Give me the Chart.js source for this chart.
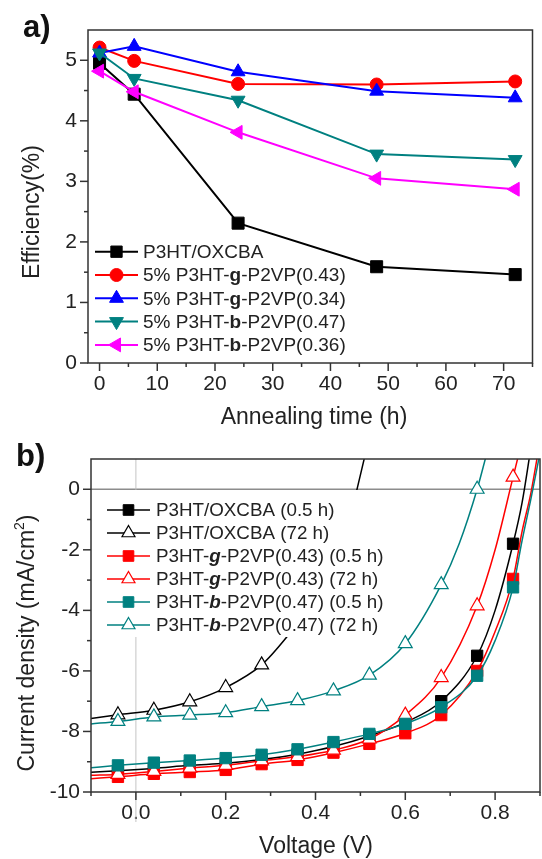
<!DOCTYPE html>
<html>
<head>
<meta charset="utf-8">
<script src="https://cdn.jsdelivr.net/npm/chart.js@4.4.0/dist/chart.umd.min.js"></script>
<style>
  html, body { margin: 0; padding: 0; background: #fff; }
  #wrap { position: relative; width: 542px; height: 859px; overflow: hidden; }
  canvas { position: absolute; left: 0; }
  #chartA { top: 0; }
  #chartB { top: 430px; }
</style>
</head>
<body>
<div id="wrap">
  <canvas id="chartA" width="542" height="430" style="width:542px;height:430px"></canvas>
  <canvas id="chartB" width="542" height="429" style="width:542px;height:429px"></canvas>
</div>
<script>
// ---- panel a: efficiency vs annealing time ----
const annealHours = [0, 6, 24, 48, 72];
const effRef = [4.95, 4.44, 2.31, 1.59, 1.46];
const effG43 = [5.21, 4.99, 4.61, 4.60, 4.65];
const effG34 = [5.12, 5.23, 4.81, 4.49, 4.38];
const effB47 = [5.12, 4.70, 4.34, 3.45, 3.36];
const effB36 = [4.82, 4.48, 3.81, 3.05, 2.87];
const effLabels = [
  "P3HT/OXCBA",
  "5% P3HT-*g*-P2VP(0.43)",
  "5% P3HT-*g*-P2VP(0.34)",
  "5% P3HT-*b*-P2VP(0.47)",
  "5% P3HT-*b*-P2VP(0.36)",
];
const effXTicks = [0, 10, 20, 30, 40, 50, 60, 70];
const effXMinor = [5, 15, 25, 35, 45, 55, 65, 75];
const effYTicks = [0, 1, 2, 3, 4, 5];
const effYMinor = [0.5, 1.5, 2.5, 3.5, 4.5];

// ---- panel b: J-V curves ----
const vRef05 = [-0.1, -0.04, 0.04, 0.12, 0.2, 0.28, 0.36, 0.44, 0.52, 0.6, 0.68, 0.76, 0.8, 0.84, 0.86, 0.88];
const jRef05 = [-9.35, -9.3, -9.22, -9.12, -9.05, -8.93, -8.75, -8.5, -8.15, -7.7, -7.0, -5.5, -4.0, -1.8, -0.45, 1.4];
const vRef72 = [-0.1, -0.04, 0.04, 0.12, 0.2, 0.28, 0.336, 0.36, 0.4, 0.44, 0.47, 0.49, 0.51];
const jRef72 = [-7.57, -7.45, -7.3, -7.02, -6.55, -5.8, -4.88, -4.4, -3.55, -2.45, -1.3, -0.15, 1.1];
const vG05 = [-0.1, -0.04, 0.04, 0.12, 0.2, 0.28, 0.36, 0.44, 0.52, 0.6, 0.68, 0.76, 0.8, 0.84, 0.86, 0.88, 0.9];
const jG05 = [-9.56, -9.5, -9.4, -9.34, -9.27, -9.08, -8.94, -8.7, -8.41, -8.06, -7.46, -6.0, -4.7, -2.96, -1.4, -0.1, 1.6];
const vG72 = [-0.1, -0.04, 0.04, 0.12, 0.2, 0.28, 0.36, 0.44, 0.52, 0.6, 0.68, 0.76, 0.8, 0.84, 0.86];
const jG72 = [-9.45, -9.42, -9.32, -9.21, -9.12, -8.97, -8.83, -8.62, -8.25, -7.46, -6.22, -3.85, -2.0, 0.4, 1.6];
const vB05 = [-0.1, -0.04, 0.04, 0.12, 0.2, 0.28, 0.36, 0.44, 0.52, 0.6, 0.68, 0.76, 0.8, 0.84, 0.86, 0.88, 0.9];
const jB05 = [-9.2, -9.12, -9.03, -8.96, -8.88, -8.77, -8.59, -8.35, -8.08, -7.75, -7.2, -6.16, -5.0, -3.24, -1.7, -0.3, 1.2];
const vB72 = [-0.1, -0.04, 0.04, 0.12, 0.2, 0.28, 0.36, 0.44, 0.52, 0.6, 0.68, 0.72, 0.76, 0.78];
const jB72 = [-7.75, -7.67, -7.52, -7.46, -7.38, -7.18, -6.98, -6.66, -6.14, -5.1, -3.15, -1.8, 0.0, 1.1];
const jvLabels = [
  "P3HT/OXCBA (0.5 h)",
  "P3HT/OXCBA (72 h)",
  "P3HT-_g_-P2VP(0.43) (0.5 h)",
  "P3HT-_g_-P2VP(0.43) (72 h)",
  "P3HT-_b_-P2VP(0.47) (0.5 h)",
  "P3HT-_b_-P2VP(0.47) (72 h)",
];
const markerVolts = [-0.04, 0.04, 0.12, 0.2, 0.28, 0.36, 0.44, 0.52, 0.6, 0.68, 0.76, 0.84];
const jvXTicks = [0, 0.2, 0.4, 0.6, 0.8];
const jvXMinor = [-0.1, 0.1, 0.3, 0.5, 0.7, 0.9];
const jvYTicks = [0, -2, -4, -6, -8, -10];
const jvYMinor = [-1, -3, -5, -7, -9];

const FONT = '"Liberation Sans", Arial, sans-serif';
const INK = "#222222";
const AXIS = "#333333";
const TEAL = "#008080";

function toXY(xs, ys) {
  return xs.map((x, i) => ({ x: x, y: ys[i] }));
}

// same geometry as Chart.js point styles
function drawMarker(ctx, m, x, y) {
  ctx.save();
  ctx.beginPath();
  const r = m.radius;
  if (m.style === "circle") {
    ctx.arc(x, y, r, 0, Math.PI * 2);
  } else if (m.style === "rect") {
    const s = Math.SQRT1_2 * r;
    ctx.rect(x - s, y - s, 2 * s, 2 * s);
  } else {
    let rad = ((m.rotation || 0) * Math.PI) / 180;
    for (let k = 0; k < 3; k++) {
      const px = x + Math.sin(rad) * r;
      const py = y - Math.cos(rad) * r;
      if (k === 0) ctx.moveTo(px, py);
      else ctx.lineTo(px, py);
      rad += (2 * Math.PI) / 3;
    }
    ctx.closePath();
  }
  ctx.fillStyle = m.fill;
  ctx.fill();
  ctx.lineWidth = m.borderWidth;
  ctx.strokeStyle = m.stroke;
  ctx.stroke();
  ctx.restore();
}

// *x* = bold, _x_ = bold italic
function richText(ctx, str, x, y, size) {
  const parts = str.split(/(\*[^*]+\*|_[^_]+_)/).filter(Boolean);
  parts.forEach((p) => {
    let weight = "normal", style = "normal", t = p;
    if (p[0] === "*") { weight = "bold"; t = p.slice(1, -1); }
    else if (p[0] === "_") { weight = "bold"; style = "italic"; t = p.slice(1, -1); }
    ctx.font = `${style} ${weight} ${size}px ${FONT}`;
    ctx.fillText(t, x, y);
    x += ctx.measureText(t).width;
  });
}

function strokeLine(ctx, x1, y1, x2, y2) {
  ctx.beginPath();
  ctx.moveTo(x1, y1);
  ctx.lineTo(x2, y2);
  ctx.stroke();
}

const decor = {
  id: "decor",
  beforeDatasetsDraw(chart, args, o) {
    if (!o.zeroLines) return;
    const { ctx, chartArea: a, scales: { x, y } } = chart;
    ctx.save();
    ctx.strokeStyle = "#8c8c8c";
    ctx.lineWidth = 1.3;
    const y0 = y.getPixelForValue(0);
    strokeLine(ctx, a.left, y0, a.right, y0);
    ctx.strokeStyle = "#bdbdbd";
    ctx.lineWidth = 0.9;
    const x0 = x.getPixelForValue(0);
    strokeLine(ctx, x0, a.top, x0, a.bottom + 30);
    ctx.restore();
  },
  afterDatasetsDraw(chart, args, o) {
    const { ctx, chartArea: a, scales: { x, y } } = chart;
    ctx.save();

    // legend
    const L = o.legend;
    if (L.box) {
      ctx.fillStyle = "#ffffff";
      ctx.fillRect(L.box[0], L.box[1], L.box[2], L.box[3]);
    }
    chart.data.datasets.forEach((ds, i) => {
      const ly = L.top + i * L.step;
      ctx.strokeStyle = ds.borderColor;
      ctx.lineWidth = ds.borderWidth;
      strokeLine(ctx, L.x1, ly, L.x2, ly);
      drawMarker(ctx, {
        style: ds.pointStyle,
        rotation: ds.pointRotation,
        radius: L.radius[i],
        fill: ds.pointBackgroundColor,
        stroke: ds.pointBorderColor,
        borderWidth: ds.pointBorderWidth,
      }, (L.x1 + L.x2) / 2, ly);
      ctx.fillStyle = INK;
      ctx.textBaseline = "middle";
      ctx.textAlign = "left";
      richText(ctx, L.labels[i], L.textX, ly + 1, L.size);
    });

    // frame
    ctx.strokeStyle = AXIS;
    ctx.lineWidth = 1.5;
    ctx.strokeRect(a.left, a.top, a.right - a.left, a.bottom - a.top);

    // tick marks, major and minor
    const tick = (vals, len) => {
      vals.forEach((v) => {
        const px = x.getPixelForValue(v);
        if (px >= a.left - 0.5 && px <= a.right + 0.5) strokeLine(ctx, px, a.bottom, px, a.bottom + len);
      });
    };
    const ytick = (vals, len) => {
      vals.forEach((v) => {
        const py = y.getPixelForValue(v);
        if (py >= a.top - 0.5 && py <= a.bottom + 0.5) strokeLine(ctx, a.left, py, a.left - len, py);
      });
    };
    tick(o.xMajor, 8);
    tick(o.xMinor, 4);
    ytick(o.yMajor, 8);
    ytick(o.yMinor, 4);

    // axis titles
    ctx.fillStyle = INK;
    ctx.textAlign = "center";
    ctx.textBaseline = "middle";
    ctx.font = `23px ${FONT}`;
    ctx.fillText(o.xTitle, o.xTitlePos[0], o.xTitlePos[1]);

    ctx.save();
    ctx.translate(o.yTitlePos[0], o.yTitlePos[1]);
    ctx.rotate(-Math.PI / 2);
    ctx.textAlign = "left";
    const parts = o.yTitle;
    let total = 0;
    const widths = parts.map((p) => {
      ctx.font = `${p.sup ? 14 : 23}px ${FONT}`;
      const w = ctx.measureText(p.t).width;
      total += w;
      return w;
    });
    let cx = -total / 2;
    parts.forEach((p, i) => {
      ctx.font = `${p.sup ? 14 : 23}px ${FONT}`;
      ctx.fillText(p.t, cx, p.sup ? -8 : 0);
      cx += widths[i];
    });
    ctx.restore();

    // panel letter
    ctx.textAlign = "left";
    ctx.textBaseline = "alphabetic";
    ctx.font = `bold 31px ${FONT}`;
    ctx.fillStyle = "#111";
    ctx.fillText(o.panel, o.panelPos[0], o.panelPos[1]);

    ctx.restore();
  },
};

function axisOptions(min, max, ticks, fmt, fitFn, pad) {
  return {
    type: "linear",
    min: min,
    max: max,
    grid: { display: false, drawTicks: false },
    border: { display: false },
    ticks: {
      autoSkip: false,
      maxRotation: 0,
      padding: pad,
      color: INK,
      font: { family: FONT, size: 21 },
      callback: fmt,
    },
    afterBuildTicks: (s) => { s.ticks = ticks.map((v) => ({ value: v })); },
    afterFit: fitFn,
  };
}

// ---- chart a ----
const effColors = ["#000000", "#ff0000", "#0000ff", TEAL, "#ff00ff"];
const effStyles = [
  { s: "rect", r: 8.5, rot: 0 },
  { s: "circle", r: 6.5, rot: 0 },
  { s: "triangle", r: 8, rot: 0 },
  { s: "triangle", r: 8, rot: 180 },
  { s: "triangle", r: 8, rot: -90 },
];
const effSeries = [effRef, effG43, effG34, effB47, effB36];

new Chart(document.getElementById("chartA"), {
  type: "line",
  data: {
    datasets: effSeries.map((vals, i) => ({
      label: effLabels[i],
      data: toXY(annealHours, vals),
      borderColor: effColors[i],
      borderWidth: 2,
      pointStyle: effStyles[i].s,
      pointRotation: effStyles[i].rot,
      pointRadius: effStyles[i].r,
      pointBackgroundColor: effColors[i],
      pointBorderColor: effColors[i],
      pointBorderWidth: 1,
      tension: 0,
      order: -i,
    })),
  },
  options: {
    responsive: false,
    animation: false,
    layout: { padding: { left: 0, top: 30, right: 2, bottom: 0 } },
    plugins: {
      legend: { display: false },
      tooltip: { enabled: false },
      decor: {
        xMajor: effXTicks, xMinor: effXMinor, yMajor: effYTicks, yMinor: effYMinor,
        xTitle: "Annealing time (h)", xTitlePos: [314, 418],
        yTitle: [{ t: "Efficiency(%)" }], yTitlePos: [33, 212],
        panel: "a)", panelPos: [23, 37],
        legend: {
          top: 251.7, step: 23.3, x1: 95, x2: 138, textX: 143, size: 19,
          radius: [8, 6.5, 8, 8, 8], labels: effLabels,
        },
      },
    },
    scales: {
      x: axisOptions(-2, 75, effXTicks, (v) => String(v), (s) => { s.height = 67; }, 9),
      y: axisOptions(0, 5.5, effYTicks, (v) => String(v), (s) => { s.width = 88; }, 11),
    },
  },
  plugins: [decor],
});

// ---- chart b ----
const jvColors = ["#000000", "#000000", "#ff0000", "#ff0000", TEAL, TEAL];
const jvOpen = [false, true, false, true, false, true];
const jvV = [vRef05, vRef72, vG05, vG72, vB05, vB72];
const jvJ = [jRef05, jRef72, jG05, jG72, jB05, jB72];

const isMarker = (v) => markerVolts.some((m) => Math.abs(m - v) < 1e-6);

new Chart(document.getElementById("chartB"), {
  type: "line",
  data: {
    datasets: jvV.map((vs, i) => ({
      label: jvLabels[i],
      data: toXY(vs, jvJ[i]),
      borderColor: jvColors[i],
      borderWidth: 1.5,
      cubicInterpolationMode: "monotone",
      pointStyle: jvOpen[i] ? "triangle" : "rect",
      pointRotation: 0,
      pointRadius: (c) => (isMarker(c.raw.x) ? 8 : 0),
      pointBackgroundColor: jvOpen[i] ? "#ffffff" : jvColors[i],
      pointBorderColor: jvColors[i],
      pointBorderWidth: jvOpen[i] ? 1.2 : 1,
      clip: 0,
      order: -i,
    })),
  },
  options: {
    responsive: false,
    animation: false,
    layout: { padding: { left: 0, top: 29, right: 2, bottom: 0 } },
    plugins: {
      legend: { display: false },
      tooltip: { enabled: false },
      decor: {
        zeroLines: true,
        xMajor: jvXTicks, xMinor: jvXMinor, yMajor: jvYTicks, yMinor: jvYMinor,
        xTitle: "Voltage (V)", xTitlePos: [316, 417],
        yTitle: [{ t: "Current density (mA/cm" }, { t: "2", sup: true }, { t: ")" }],
        yTitlePos: [28, 213],
        panel: "b)", panelPos: [16, 36],
        legend: {
          box: [96, 60, 295, 147],
          top: 80, step: 23, x1: 107, x2: 150, textX: 156, size: 18.8,
          radius: [7.5, 7.5, 7.5, 7.5, 7.5, 7.5], labels: jvLabels,
        },
      },
    },
    scales: {
      x: axisOptions(-0.1, 0.9, jvXTicks, (v) => v.toFixed(1), (s) => { s.height = 67; }, 9),
      y: axisOptions(-10, 1, jvYTicks, (v) => String(v), (s) => { s.width = 91; }, 11),
    },
  },
  plugins: [decor],
});
</script>
</body>
</html>
